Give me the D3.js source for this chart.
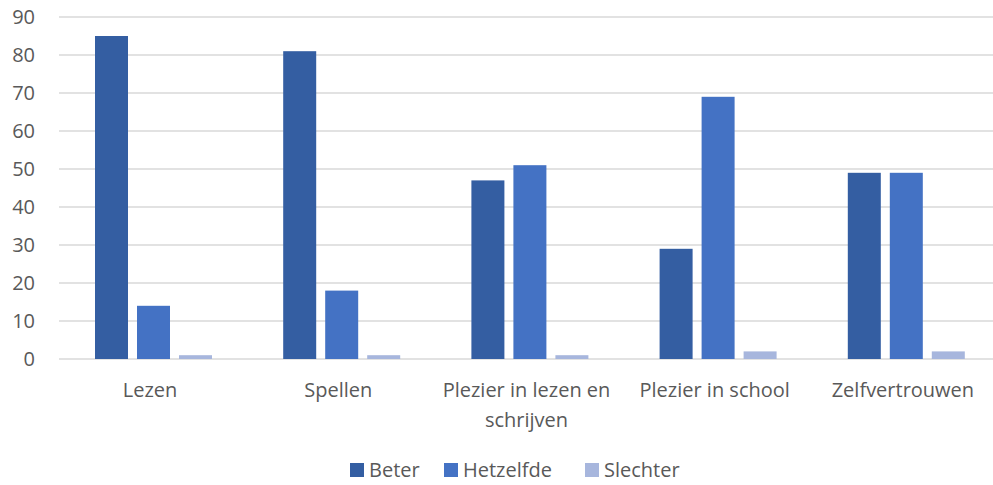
<!DOCTYPE html>
<meta charset="utf-8">
<script src="https://d3js.org/d3.v7.min.js"></script>
<style>
  body { margin: 0; background: #fff; }
  text { font-family: "Open Sans", sans-serif; fill: #595959; }
</style>
<div id="chart"></div>
<script>

// data
var categories = ["Lezen", "Spellen", "Plezier in lezen en schrijven", "Plezier in school", "Zelfvertrouwen"];
var series = ["Beter", "Hetzelfde", "Slechter"];
var beter = [85, 81, 47, 29, 49];
var hetzelfde = [14, 18, 51, 69, 49];
var slechter = [1, 1, 1, 2, 2];
var yTicks = [0, 10, 20, 30, 40, 50, 60, 70, 80, 90];

var colors = ["#345ea2", "#4472c4", "#a7b6dd"];
var values = [beter, hetzelfde, slechter];

var width = 993, height = 485;
var plotLeft = 59, plotRight = 1000, plotTop = 17, plotBottom = 359;

var svg = d3.select("#chart").append("svg")
    .attr("width", width)
    .attr("height", height);

var x0 = d3.scaleBand()
    .domain(categories)
    .range([plotLeft, plotRight])
    .paddingInner(0)
    .paddingOuter(0);

// bars are ~33px wide with 9px gaps, inside a 188px group
var x1 = d3.scaleBand()
    .domain(series)
    .range([36, 36 + 3 * 33 + 2 * 9])
    .paddingInner(9 / 42)
    .paddingOuter(0);

var y = d3.scaleLinear()
    .domain([0, 90])
    .range([plotBottom, plotTop]);

// gridlines
svg.append("g")
  .selectAll("line")
  .data(yTicks)
  .enter()
  .append("line")
    .attr("x1", plotLeft)
    .attr("x2", plotRight)
    .attr("y1", function(d) { return y(d); })
    .attr("y2", function(d) { return y(d); })
    .attr("stroke", "#d9d9d9")
    .attr("stroke-width", 1.5);

// y labels
svg.append("g")
  .selectAll("text")
  .data(yTicks)
  .enter()
  .append("text")
    .attr("x", 35)
    .attr("y", function(d) { return y(d); })
    .attr("dy", "0.35em")
    .attr("text-anchor", "end")
    .style("font-size", "20px")
    .text(function(d) { return d; });

// bars
var groups = svg.append("g")
  .selectAll("g")
  .data(categories)
  .enter()
  .append("g")
    .attr("transform", function(d) { return "translate(" + x0(d) + ",0)"; });

groups.selectAll("rect")
  .data(function(d, i) {
    return series.map(function(s, j) { return {key: s, value: values[j][i], color: colors[j]}; });
  })
  .enter()
  .append("rect")
    .attr("x", function(d) { return x1(d.key); })
    .attr("width", x1.bandwidth())
    .attr("y", function(d) { return y(d.value); })
    .attr("height", function(d) { return y(0) - y(d.value); })
    .attr("fill", function(d) { return d.color; });

// category labels, wrapped like the original
var catLines = {
  "Plezier in lezen en schrijven": ["Plezier in lezen en", "schrijven"]
};
svg.append("g")
  .selectAll("text")
  .data(categories)
  .enter()
  .append("text")
    .attr("x", function(d) { return x0(d) + x0.bandwidth() / 2 - 3; })
    .attr("y", 397)
    .attr("text-anchor", "middle")
    .style("font-size", "20px")
    .each(function(d) {
      var lines = catLines[d] || [d];
      var t = d3.select(this);
      lines.forEach(function(l, k) {
        t.append("tspan")
          .attr("x", t.attr("x"))
          .attr("dy", k === 0 ? 0 : 30)
          .text(l);
      });
    });

// legend
var legendX = [350, 444, 585];
var legend = svg.append("g")
  .selectAll("g")
  .data(series)
  .enter()
  .append("g")
    .attr("transform", function(d, i) { return "translate(" + legendX[i] + ",463)"; });

legend.append("rect")
    .attr("width", 14)
    .attr("height", 14)
    .attr("fill", function(d, i) { return colors[i]; });

legend.append("text")
    .attr("x", 19)
    .attr("y", 7)
    .attr("dy", "0.35em")
    .style("font-size", "20px")
    .text(function(d) { return d; });

</script>
